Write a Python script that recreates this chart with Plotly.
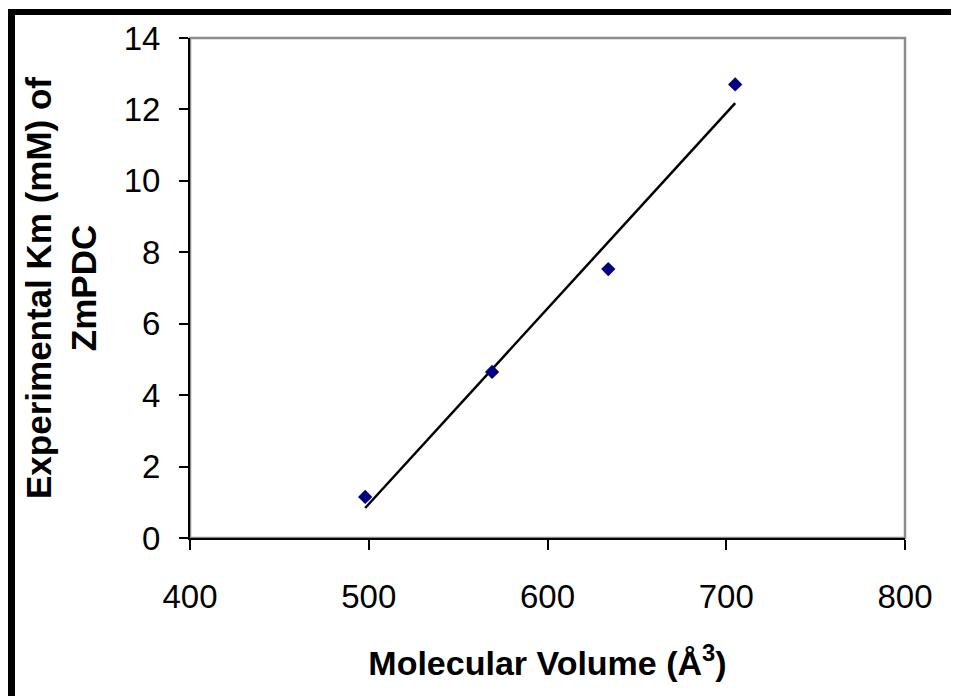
import numpy as np
import plotly.graph_objects as go

# Data
molecular_volume = [498, 569, 634, 705]
km_values = [1.15, 4.65, 7.53, 12.7]
x_ticks = [400, 500, 600, 700, 800]
y_ticks = [0, 2, 4, 6, 8, 10, 12, 14]

# Linear trendline fitted to the data
slope, intercept = np.polyfit(molecular_volume, km_values, 1)
trend_x = [min(molecular_volume), max(molecular_volume)]
trend_y = [slope * v + intercept for v in trend_x]

OFF = 8  # page body margin
W, H = 959 - OFF, 696 - OFF
L, R, T, B = 190 - OFF, 54, 38 - OFF, 158
pw, ph = W - L - R, H - T - B

def px(x):
    return (x - OFF - L) / pw

def py(y):
    return (H - B - (y - OFF)) / ph

fig = go.Figure()
fig.add_trace(go.Scatter(x=trend_x, y=trend_y, mode="lines",
                         line=dict(color="black", width=2.5), showlegend=False))
fig.add_trace(go.Scatter(x=molecular_volume, y=km_values, mode="markers",
                         marker=dict(symbol="diamond", size=11, color="#000080"),
                         showlegend=False))

tickfont = dict(family="Liberation Sans, Arial", size=33, color="black")
xtitlefont = dict(family="Liberation Sans, Arial", size=34, color="black", weight="bold")
ytitlefont = dict(family="Liberation Sans, Arial", size=35, color="black", weight="bold")

fig.update_layout(
    width=W, height=H,
    margin=dict(l=L, r=R, t=T, b=B, autoexpand=False),
    paper_bgcolor="white", plot_bgcolor="white",
    xaxis=dict(range=[400, 800], tickvals=x_ticks, ticks="outside", ticklen=10,
               tickwidth=2, tickcolor="black", showline=True, linecolor="black",
               linewidth=2, showgrid=False, zeroline=False, tickfont=tickfont,
               ticklabelstandoff=18,
               title=dict(text="<b>Molecular Volume (Å<sup>3</sup>)</b>", font=xtitlefont,
                          standoff=38)),
    yaxis=dict(range=[0, 14], tickvals=y_ticks, ticks="outside", ticklen=9,
               tickwidth=2, tickcolor="black", showline=True, linecolor="black",
               linewidth=2, showgrid=False, zeroline=False, tickfont=tickfont,
               ticklabelstandoff=12,
               title=dict(text="<b>Experimental Km (mM) of<br>ZmPDC</b>", font=ytitlefont,
                          standoff=16)),
    shapes=[
        dict(type="rect", xref="paper", yref="paper", x0=0, x1=1, y0=0, y1=1,
             line=dict(color="#8c8c8c", width=2.5), layer="below"),
        dict(type="rect", xref="paper", yref="paper", x0=px(7), x1=px(15),
             y0=py(700), y1=py(9), fillcolor="black", line=dict(width=0)),
        dict(type="rect", xref="paper", yref="paper", x0=px(7), x1=px(960),
             y0=py(15), y1=py(9), fillcolor="black", line=dict(width=0)),
    ],
)

fig.write_html("out.html")
